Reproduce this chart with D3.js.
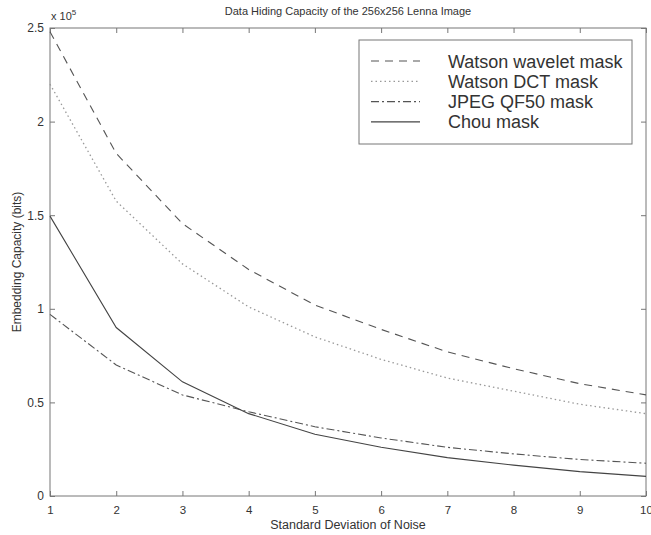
<!DOCTYPE html>
<html>
<head>
<meta charset="utf-8">
<script src="https://cdn.jsdelivr.net/npm/d3@7"></script>
<style>
  body { margin: 0; background: #fff; }
  text { font-family: "Liberation Sans", Arial, sans-serif; fill: #333; }
</style>
</head>
<body>
<div id="canvas"></div>
<script>
"use strict";

// Data (capacity in units of 1e5 bits)
let noiseStd = [1, 2, 3, 4, 5, 6, 7, 8, 9, 10];
let watsonWavelet = [2.48, 1.83, 1.455, 1.21, 1.02, 0.89, 0.77, 0.68, 0.60, 0.54];
let watsonDCT = [2.20, 1.575, 1.24, 1.01, 0.85, 0.73, 0.63, 0.56, 0.49, 0.44];
let jpegQF50 = [0.97, 0.70, 0.54, 0.45, 0.37, 0.31, 0.26, 0.225, 0.195, 0.175];
let chou = [1.495, 0.90, 0.61, 0.44, 0.33, 0.26, 0.205, 0.165, 0.13, 0.105];
let xTicks = [1, 2, 3, 4, 5, 6, 7, 8, 9, 10];
let yTicks = [0, 0.5, 1, 1.5, 2, 2.5];
let seriesNames = ["Watson wavelet mask", "Watson DCT mask", "JPEG QF50 mask", "Chou mask"];

let svgWidth = 651, svgHeight = 535;
let margin = { top: 28, right: 5, bottom: 39, left: 50 };
let chartWidth = svgWidth - margin.left - margin.right;
let chartHeight = svgHeight - margin.top - margin.bottom;

let svg = d3.select("#canvas").append("svg")
  .attr("width", svgWidth)
  .attr("height", svgHeight);

let chart = svg.append("g")
  .attr("transform", "translate(" + margin.left + "," + margin.top + ")");

let xScale = d3.scaleLinear().domain([1, 10]).range([0, chartWidth]);
let yScale = d3.scaleLinear().domain([0, 2.5]).range([chartHeight, 0]);

// line styles
let styles = [
  { color: "#555", dash: "8,6", width: 1.1 },
  { color: "#999", dash: "1.5,3", width: 1.3 },
  { color: "#555", dash: "8,3,2,3", width: 1.1 },
  { color: "#444", dash: null, width: 1.1 }
];
let allSeries = [watsonWavelet, watsonDCT, jpegQF50, chou];

// frame
chart.append("rect")
  .attr("width", chartWidth).attr("height", chartHeight)
  .attr("fill", "none").attr("stroke", "#777").attr("stroke-width", 1);

// axes (MATLAB-like inward ticks)
let tickLen = 5;
let xAxis = chart.append("g")
  .attr("transform", "translate(0," + chartHeight + ")")
  .call(d3.axisBottom(xScale).tickValues(xTicks).tickSizeInner(-tickLen).tickSizeOuter(0).tickPadding(10));
let xAxisTop = chart.append("g")
  .call(d3.axisTop(xScale).tickValues(xTicks).tickSizeInner(-tickLen).tickSizeOuter(0).tickFormat(""));
let yAxis = chart.append("g")
  .call(d3.axisLeft(yScale).tickValues(yTicks).tickSizeInner(-tickLen).tickSizeOuter(0).tickPadding(6)
    .tickFormat(function(d){ return d3.format("")(d); }));
let yAxisRight = chart.append("g")
  .attr("transform", "translate(" + chartWidth + ",0)")
  .call(d3.axisRight(yScale).tickValues(yTicks).tickSizeInner(-tickLen).tickSizeOuter(0).tickFormat(""));

[xAxis, xAxisTop, yAxis, yAxisRight].forEach(function(a){
  a.select(".domain").remove();
  a.selectAll("line").attr("stroke", "#777");
  a.selectAll("text").style("font-size", "12px").attr("fill", "#333");
});
xAxis.selectAll("text").style("font-size", "11.5px");

// lines
let line = d3.line()
  .x(function(d, i){ return xScale(noiseStd[i]); })
  .y(function(d){ return yScale(d); });

allSeries.forEach(function(s, i){
  chart.append("path")
    .datum(s)
    .attr("d", line)
    .attr("fill", "none")
    .attr("stroke", styles[i].color)
    .attr("stroke-width", styles[i].width)
    .attr("stroke-dasharray", styles[i].dash);
});

// exponent label
let expo = svg.append("text").attr("x", margin.left + 1).attr("y", 20).style("font-size", "11px");
expo.append("tspan").text("x 10");
expo.append("tspan").attr("dy", -5).style("font-size", "8px").text("5");

// title
svg.append("text")
  .attr("x", margin.left + chartWidth / 2).attr("y", 15)
  .attr("text-anchor", "middle").style("font-size", "11px")
  .text("Data Hiding Capacity of the 256x256 Lenna Image");

// axis labels
svg.append("text")
  .attr("x", margin.left + chartWidth / 2).attr("y", 529)
  .attr("text-anchor", "middle").style("font-size", "12.5px")
  .text("Standard Deviation of Noise");
svg.append("text")
  .attr("transform", "translate(21," + (margin.top + chartHeight / 2) + ") rotate(-90)")
  .attr("text-anchor", "middle").style("font-size", "12px")
  .text("Embedding Capacity (bits)");

// legend
let legend = svg.append("g").attr("transform", "translate(359,40)");
legend.append("rect")
  .attr("width", 273).attr("height", 104)
  .attr("fill", "#fff").attr("stroke", "#777");
seriesNames.forEach(function(name, i){
  let cy = 21 + i * 20.3;
  legend.append("line")
    .attr("x1", 12).attr("x2", 61).attr("y1", cy).attr("y2", cy)
    .attr("stroke", styles[i].color)
    .attr("stroke-width", styles[i].width)
    .attr("stroke-dasharray", styles[i].dash);
  legend.append("text")
    .attr("x", 89).attr("y", cy + 6.5)
    .style("font-size", "18px")
    .text(name);
});
</script>
</body>
</html>
